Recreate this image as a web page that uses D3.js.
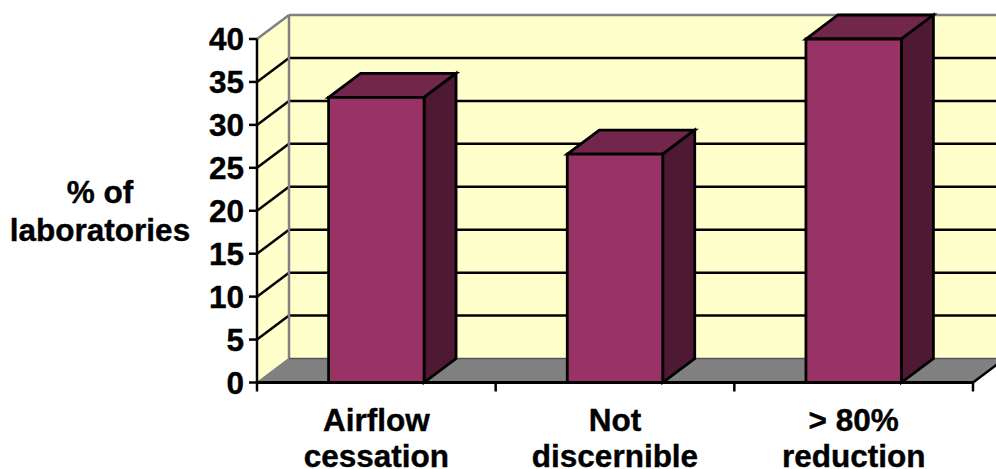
<!DOCTYPE html>
<html>
<head>
<meta charset="utf-8">
<style>
  html, body { margin: 0; padding: 0; background: #fff; overflow: hidden; }
  svg { display: block; }
  text { font-family: "Liberation Sans", Arial, sans-serif; font-weight: bold; fill: #000; stroke: #000; stroke-width: 0.4px; }
</style>
</head>
<body>
<svg width="996" height="469"></svg>
<script src="https://d3js.org/d3.v7.min.js"></script>
<script>
var categories = [["Airflow", "cessation"], ["Not", "discernible"], ["> 80%", "reduction"]];
var values = [33.2, 26.6, 40];
var yTicks = [0, 5, 10, 15, 20, 25, 30, 35, 40];
var yLabel = ["% of", "laboratories"];

var svg = d3.select("svg");
var plotLeft = 257, plotRight = 973, plotTop = 39, plotBottom = 382.5;
// offset of the back plane from the front plane
var depthX = 32, depthY = -24;
var fontSize = 31.5;

var x = d3.scaleBand().domain(d3.range(categories.length)).range([plotLeft, plotRight]).paddingInner(0.6).paddingOuter(0.3);
var y = d3.scaleLinear().domain([0, 40]).range([plotBottom, plotTop]);

function poly(points, fill, stroke, width) {
  return svg.append("polygon")
    .attr("points", points.map(function(p) { return p.join(","); }).join(" "))
    .attr("fill", fill)
    .attr("stroke", stroke || "none")
    .attr("stroke-width", width || 0)
    .attr("stroke-linejoin", "miter");
}

function line(x1, y1, x2, y2, color, width) {
  return svg.append("line")
    .attr("x1", x1).attr("y1", y1).attr("x2", x2).attr("y2", y2)
    .attr("stroke", color).attr("stroke-width", width);
}

// walls
var backLeft = plotLeft + depthX, backRight = plotRight + depthX;
poly([[plotLeft, y(0)], [backLeft, y(0) + depthY], [backLeft, y(40) + depthY], [plotLeft, y(40)]], "#ffffcc");
poly([[backLeft, y(0) + depthY], [backRight, y(0) + depthY], [backRight, y(40) + depthY], [backLeft, y(40) + depthY]], "#ffffcc");

// floor
poly([[plotLeft, y(0)], [backLeft, y(0) + depthY], [backRight, y(0) + depthY], [plotRight, y(0)]], "#808080");

// gridlines run along the side wall, then across the back
yTicks.slice(1, -1).forEach(function(t) {
  line(plotLeft, y(t), backLeft, y(t) + depthY, "#000", 2.5);
  line(backLeft, y(t) + depthY, backRight, y(t) + depthY, "#000", 2.5);
});

// wall edges
line(plotLeft, y(40), backLeft, y(40) + depthY, "#808080", 2.5);
line(backLeft, y(40) + depthY, backRight, y(40) + depthY, "#808080", 2.5);
line(backLeft, y(40) + depthY, backLeft, y(0) + depthY, "#808080", 2.5);
line(backLeft, y(0) + depthY, backRight, y(0) + depthY, "#555", 1.5);
line(plotLeft, y(0), backLeft, y(0) + depthY, "#808080", 1.5);
line(plotRight, y(0), backRight, y(0) + depthY, "#000", 2.5);

// bars
values.forEach(function(v, i) {
  var x0 = x(i), x1 = x(i) + x.bandwidth();
  poly([[x0, y(v)], [x0 + depthX, y(v) + depthY], [x1 + depthX, y(v) + depthY], [x1, y(v)]], "#72264b", "#000", 2.8);
  poly([[x1, y(v)], [x1 + depthX, y(v) + depthY], [x1 + depthX, y(0) + depthY], [x1, y(0)]], "#4d1933", "#000", 2.8);
  poly([[x0, y(v)], [x1, y(v)], [x1, y(0)], [x0, y(0)]], "#993366", "#000", 2.8);
});

// value axis
line(plotLeft, y(0), plotLeft, y(40), "#000", 2.5);
yTicks.forEach(function(t) {
  line(plotLeft - 8, y(t), plotLeft, y(t), "#000", 2.5);
  svg.append("text")
    .attr("x", plotLeft - 13)
    .attr("y", y(t) + 11)
    .attr("text-anchor", "end")
    .attr("font-size", fontSize)
    .text(t);
});

// category axis
line(plotLeft, y(0), plotRight, y(0), "#000", 3);
d3.range(categories.length + 1).forEach(function(i) {
  var tx = plotLeft + (plotRight - plotLeft) * i / categories.length;
  line(tx, y(0), tx, y(0) + 9, "#000", 2.5);
});
categories.forEach(function(lines, i) {
  var cx = x(i) + x.bandwidth() / 2;
  lines.forEach(function(s, j) {
    svg.append("text")
      .attr("x", cx)
      .attr("y", 431 + j * 36)
      .attr("text-anchor", "middle")
      .attr("font-size", fontSize)
      .text(s);
  });
});

// axis title
yLabel.forEach(function(s, j) {
  svg.append("text")
    .attr("x", 100)
    .attr("y", 203 + j * 38)
    .attr("text-anchor", "middle")
    .attr("font-size", fontSize)
    .text(s);
});
</script>
</body>
</html>
